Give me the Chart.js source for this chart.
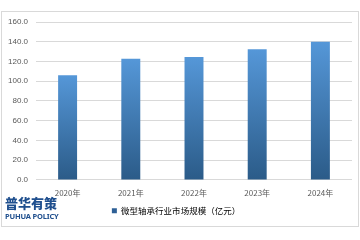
<!DOCTYPE html>
<html>
<head>
<meta charset="utf-8">
<script src="https://cdn.jsdelivr.net/npm/chart.js@4"></script>
<style>
  body { margin: 0; background: #fff; }
  #wrap { position: relative; width: 360px; height: 240px; }
  #logo { position: absolute; left: 5px; top: 195px; color: #1f4f8e; font-family: "Noto Sans CJK SC", sans-serif; }
  #logo .cn { font-size: 13px; font-weight: 900; line-height: 16px; }
  #logo .en { font-size: 7.5px; font-weight: 700; line-height: 10px; font-family: "Noto Sans", sans-serif; letter-spacing: -0.2px; }
</style>
</head>
<body>
<div id="wrap">
  <canvas id="chart" width="360" height="240"></canvas>
  <div id="logo"><div class="cn">普华有策</div><div class="en">PUHUA POLICY</div></div>
</div>
<script>
let years = ["2020年", "2021年", "2022年", "2023年", "2024年"];
let marketSize = [106, 122.8, 124.6, 132.3, 140];
let seriesName = "微型轴承行业市场规模（亿元）";

let chartElement = document.getElementById("chart");

// light blue at the bar top, dark at the base
function barGradient(context) {
  let chart = context.chart;
  if (!chart.chartArea || context.parsed === undefined) return "#3a75b0";
  let y = chart.scales.y;
  let top = y.getPixelForValue(context.parsed.y);
  let bottom = y.getPixelForValue(0);
  let g = chart.ctx.createLinearGradient(0, top, 0, bottom);
  g.addColorStop(0, "#5597d8");
  g.addColorStop(1, "#2b5b88");
  return g;
}

let frame = {
  id: "frame",
  beforeDraw(chart) {
    let ctx = chart.ctx;
    ctx.save();
    ctx.strokeStyle = "#d9d9d9";
    ctx.lineWidth = 1;
    ctx.strokeRect(1.5, 11.5, 357, 215);
    ctx.restore();
  },
};

new Chart(chartElement.getContext("2d"), {
  type: "bar",
  data: {
    labels: years,
    datasets: [
      {
        label: seriesName,
        data: marketSize,
        backgroundColor: barGradient,
        borderWidth: 0,
        categoryPercentage: 1,
        barPercentage: 0.3,
      },
    ],
  },
  options: {
    responsive: false,
    animation: false,
    layout: { padding: { top: 22, right: 8, bottom: 15, left: 0 } },
    plugins: {
      legend: {
        position: "bottom",
        labels: {
          boxWidth: 5,
          boxHeight: 5,
          padding: 5,
          color: "#595959",
          font: { family: "Noto Sans CJK SC", size: 8.5 },
          generateLabels: (chart) => [
            { text: seriesName, fillStyle: "#2e6096", strokeStyle: "#2e6096", lineWidth: 0, datasetIndex: 0 },
          ],
        },
      },
      tooltip: { enabled: false },
    },
    scales: {
      x: {
        grid: { display: false },
        border: { display: false },
        afterFit: (scale) => { scale.height += 4; },
        ticks: { color: "#595959", font: { family: "Noto Sans CJK SC", size: 8 }, padding: 0 },
      },
      y: {
        min: 0,
        max: 160,
        afterFit: (scale) => { scale.width = 36; },
        grid: { color: "#d9d9d9", drawTicks: false },
        border: { display: false },
        ticks: {
          stepSize: 20,
          padding: 8,
          color: "#595959",
          font: { family: "Liberation Sans", size: 8 },
          callback: (v) => v.toFixed(1),
        },
      },
    },
  },
  plugins: [frame],
});
</script>
</body>
</html>
